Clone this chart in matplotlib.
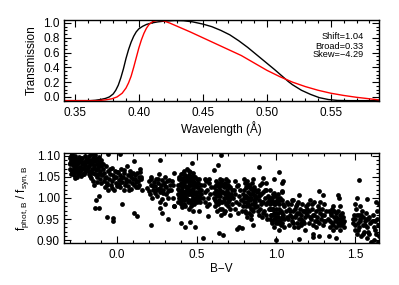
import numpy as np
import matplotlib
matplotlib.use("Agg")
import matplotlib.pyplot as plt
from matplotlib.ticker import MultipleLocator

plt.rcParams['font.family'] = ['Liberation Sans', 'DejaVu Sans']
plt.rcParams['mathtext.fontset'] = 'custom'
plt.rcParams['mathtext.rm'] = 'Liberation Sans'
plt.rcParams['mathtext.it'] = 'Liberation Sans:italic'

# top panel: filter transmission curves
wave_black = [0.3416, 0.362, 0.366, 0.370, 0.374, 0.377, 0.380, 0.382, 0.384, 0.386,
              0.388, 0.390, 0.392, 0.394, 0.396, 0.398, 0.400, 0.403, 0.406, 0.410,
              0.415, 0.420, 0.428, 0.435, 0.442, 0.450, 0.457, 0.464, 0.471, 0.478,
              0.485, 0.492, 0.499, 0.506, 0.513, 0.5166, 0.520, 0.527, 0.534, 0.541,
              0.548, 0.555, 0.565, 0.5877]
trans_black = [-0.05, -0.05, -0.045, -0.035, -0.02, 0.0, 0.04, 0.09, 0.16, 0.26,
               0.38, 0.52, 0.64, 0.74, 0.82, 0.88, 0.92, 0.955, 0.98, 1.0,
               1.015, 1.025, 1.033, 1.03, 1.015, 0.985, 0.95, 0.90, 0.84, 0.76,
               0.67, 0.57, 0.47, 0.37, 0.265, 0.21, 0.165, 0.09, 0.035, -0.01,
               -0.035, -0.047, -0.05, -0.05]

wave_red = [0.3416, 0.368, 0.374, 0.379, 0.383, 0.387, 0.390, 0.392, 0.394, 0.396,
            0.398, 0.400, 0.402, 0.404, 0.406, 0.408, 0.411, 0.415, 0.419, 0.424,
            0.430, 0.440, 0.450, 0.460, 0.470, 0.480, 0.490, 0.500, 0.510, 0.520,
            0.530, 0.540, 0.550, 0.560, 0.570, 0.580, 0.5877]
trans_red = [-0.05, -0.05, -0.04, -0.025, 0.0, 0.05, 0.12, 0.19, 0.28, 0.40,
             0.53, 0.66, 0.77, 0.86, 0.93, 0.98, 1.02, 1.035, 1.03, 1.0,
             0.955, 0.88, 0.80, 0.72, 0.64, 0.56, 0.46, 0.36, 0.275, 0.20,
             0.14, 0.09, 0.05, 0.02, -0.005, -0.025, -0.04]

fit_labels = ["Shift=1.04", "Broad=0.33", "Skew=\u22124.29"]

# bottom panel: B-V colour vs flux ratio
bv = [
    -0.30, -0.30, -0.295, -0.29, -0.29, -0.285, -0.28, -0.28, -0.275, -0.27, -0.27, -0.265,
    -0.26, -0.26, -0.255, -0.25, -0.25, -0.245, -0.24, -0.24, -0.235, -0.23, -0.23, -0.225,
    -0.22, -0.22, -0.215, -0.21, -0.21, -0.205, -0.20, -0.20, -0.195, -0.19, -0.29, -0.285,
    -0.275, -0.265, -0.255, -0.245,
    -0.185, -0.18, -0.18, -0.175, -0.17, -0.17, -0.165, -0.16, -0.16, -0.155, -0.15, -0.15,
    -0.145, -0.14, -0.14, -0.135, -0.13, -0.13, -0.125, -0.12, -0.12, -0.115, -0.11, -0.11,
    -0.105, -0.10, -0.10, -0.095, -0.09, -0.09, -0.175, -0.165, -0.145, -0.125, -0.155, -0.115,
    -0.135, -0.115, -0.14, -0.115,
    -0.085, -0.08, -0.075, -0.07, -0.07, -0.065, -0.06, -0.055, -0.05, -0.045, -0.04, -0.035,
    -0.03, -0.025, -0.02, -0.015, -0.01, -0.005, 0.0, 0.005, 0.01, 0.015, 0.02, 0.025,
    0.03, 0.035, 0.04, 0.045, 0.05, 0.055, 0.06, 0.065, 0.07, 0.075, 0.08, 0.085,
    0.09, 0.095, 0.10, 0.105, 0.11, 0.115, 0.12, 0.125, 0.13, 0.135, 0.14, 0.145,
    0.15, 0.155,
    -0.066, -0.028, -0.028, 0.028, 0.104, 0.125, 0.016, -0.06, 0.104, 0.141,
    0.19, 0.20, 0.205, 0.21, 0.215, 0.22, 0.225, 0.23, 0.235, 0.24, 0.245, 0.25,
    0.255, 0.26, 0.265, 0.27, 0.275, 0.28, 0.285, 0.29, 0.295, 0.30, 0.305, 0.31,
    0.315, 0.32, 0.325, 0.33, 0.27, 0.30,
    0.267, 0.215, 0.267, 0.318, 0.28,
    0.34, 0.35, 0.345, 0.355, 0.36, 0.35,
    0.38, 0.38, 0.38, 0.39, 0.39, 0.39, 0.40, 0.40, 0.40, 0.40, 0.41, 0.41,
    0.41, 0.41, 0.42, 0.42, 0.42, 0.42, 0.43, 0.43, 0.43, 0.43, 0.44, 0.44,
    0.44, 0.44, 0.45, 0.45, 0.45, 0.45, 0.46, 0.46, 0.46, 0.46, 0.47, 0.47,
    0.47, 0.47, 0.48, 0.48, 0.48, 0.48, 0.49, 0.49, 0.49, 0.50, 0.50, 0.50,
    0.51, 0.51, 0.51, 0.52, 0.52, 0.53, 0.53,
    0.405, 0.415, 0.425, 0.435, 0.445, 0.455, 0.465, 0.475, 0.485, 0.495, 0.435, 0.455,
    0.47, 0.456, 0.49, 0.538, 0.515, 0.571, 0.632, 0.655, 0.611, 0.36, 0.40, 0.43,
    0.54, 0.545, 0.55, 0.555, 0.56, 0.565, 0.57, 0.575, 0.58, 0.585, 0.59, 0.55,
    0.565, 0.58,
    0.61, 0.61, 0.615, 0.62, 0.62, 0.625, 0.63, 0.63, 0.635, 0.64, 0.64, 0.645,
    0.65, 0.65, 0.655, 0.66, 0.66, 0.665, 0.67, 0.67, 0.675, 0.68, 0.68, 0.685,
    0.69, 0.69, 0.695, 0.70, 0.70, 0.705, 0.71, 0.71, 0.715, 0.72, 0.72, 0.625,
    0.645, 0.655, 0.685, 0.70,
    0.644, 0.666, 0.756, 0.764, 0.785,
    0.73, 0.735, 0.74, 0.745, 0.75, 0.755, 0.76, 0.765, 0.77, 0.775, 0.78, 0.785,
    0.79, 0.795, 0.80, 0.76, 0.74,
    0.80, 0.80, 0.805, 0.805, 0.81, 0.81, 0.815, 0.815, 0.82, 0.82, 0.825, 0.825,
    0.83, 0.83, 0.835, 0.835, 0.84, 0.84, 0.845, 0.845, 0.85, 0.85, 0.855, 0.855,
    0.86, 0.86, 0.865, 0.865, 0.87, 0.87,
    0.80, 0.855, 0.896, 0.917, 0.855,
    0.875, 0.88, 0.885, 0.89, 0.895, 0.90, 0.90, 0.905, 0.91, 0.915, 0.92, 0.925,
    0.93, 0.935, 0.94, 0.945, 0.95, 0.955, 0.96, 0.965, 0.97, 0.975, 0.98, 0.985,
    0.99, 0.89, 0.92, 0.95, 0.91, 0.94,
    0.96, 0.965, 0.97, 0.975, 0.98, 0.985, 0.99, 0.995, 1.0, 1.0, 1.005, 1.01,
    1.01, 1.015, 1.02, 1.02, 1.025, 1.03, 1.03, 1.035, 1.04, 1.04, 1.045, 1.05,
    1.05, 0.98, 0.995, 1.015, 1.035, 1.005,
    1.016, 1.047, 1.035, 0.99, 1.04, 1.0,
    1.065, 1.07, 1.075, 1.08, 1.085, 1.09, 1.095, 1.10, 1.105, 1.11, 1.115, 1.12,
    1.125, 1.13, 1.135, 1.14, 1.145, 1.15, 1.155, 1.16, 1.165, 1.17, 1.175, 1.18,
    1.185, 1.19, 1.10, 1.13, 1.16,
    1.148, 1.148, 1.23, 1.23,
    1.195, 1.20, 1.205, 1.21, 1.215, 1.22, 1.225, 1.23, 1.235, 1.24, 1.245, 1.25,
    1.255, 1.26, 1.265, 1.27, 1.275, 1.28, 1.285, 1.29, 1.295, 1.30, 1.305, 1.31,
    1.315,
    1.273, 1.293, 1.273,
    1.33, 1.335, 1.34, 1.345, 1.35, 1.355, 1.36, 1.365, 1.37, 1.375, 1.38, 1.385,
    1.39, 1.395, 1.40, 1.405, 1.41, 1.415, 1.42, 1.425, 1.43, 1.36, 1.40,
    1.388, 1.398, 1.378, 1.336,
    1.485, 1.49, 1.495, 1.50, 1.505, 1.51, 1.515, 1.52, 1.525, 1.53, 1.535, 1.54,
    1.545, 1.55, 1.555, 1.56, 1.565, 1.57, 1.575, 1.58, 1.585, 1.59, 1.50, 1.53,
    1.525, 1.508, 1.571,
    1.61, 1.615, 1.62, 1.625, 1.63, 1.635, 1.64, 1.645, 1.65, 1.60, 1.63,
]

flux_ratio = [
    1.095, 1.08, 1.07, 1.088, 1.10, 1.062, 1.078, 1.092, 1.055, 1.085, 1.07, 1.10,
    1.064, 1.079, 1.09, 1.05, 1.072, 1.083, 1.098, 1.06, 1.074, 1.088, 1.052, 1.066,
    1.08, 1.094, 1.058, 1.072, 1.086, 1.10, 1.062, 1.078, 1.09, 1.07, 1.058, 1.105,
    1.098, 1.048, 1.068, 1.058,
    1.085, 1.10, 1.065, 1.076, 1.09, 1.052, 1.104, 1.07, 1.082, 1.095, 1.06, 1.04,
    1.078, 1.088, 1.102, 1.066, 1.05, 1.08, 1.092, 1.072, 1.058, 1.085, 1.045, 1.064,
    1.076, 1.09, 1.035, 1.055, 1.068, 1.082, 1.058, 1.047, 1.032, 1.038, 1.105, 1.098,
    0.996, 0.976, 0.976, 1.005,
    1.04, 1.06, 1.025, 1.075, 1.05, 1.035, 1.065, 1.02, 1.045, 1.058, 1.03, 1.072,
    1.04, 1.055, 1.018, 1.065, 1.035, 1.05, 1.028, 1.062, 1.042, 1.055, 1.025, 1.07,
    1.038, 1.05, 1.02, 1.06, 1.032, 1.045, 1.075, 1.028, 1.055, 1.04, 1.065, 1.022,
    1.05, 1.035, 1.06, 1.03, 1.045, 1.055, 1.025, 1.06, 1.04, 1.05, 1.03, 1.062,
    1.045, 1.02,
    0.955, 0.952, 0.946, 0.985, 0.965, 0.956, 1.105, 1.104, 1.087, 1.068,
    1.024, 1.04, 1.01, 1.03, 1.05, 1.0, 1.02, 1.038, 1.012, 1.028, 1.045, 1.005,
    1.022, 1.035, 1.058, 1.015, 1.03, 1.042, 0.998, 1.02, 1.035, 1.05, 1.01, 1.025,
    1.04, 1.0, 1.018, 1.03, 0.99, 0.985,
    1.091, 0.936, 0.977, 0.95, 0.965,
    1.02, 1.0, 1.04, 1.06, 0.98, 1.03,
    1.01, 1.03, 0.99, 1.02, 1.045, 1.0, 1.012, 1.035, 0.985, 1.058, 1.025, 1.005,
    1.048, 0.978, 1.015, 1.038, 0.995, 1.065, 1.028, 1.008, 1.052, 0.982, 1.018, 1.042,
    0.998, 1.07, 1.03, 1.01, 1.055, 0.975, 1.02, 1.044, 0.99, 1.062, 1.008, 1.032,
    1.05, 0.985, 1.022, 1.04, 1.0, 0.97, 1.012, 1.035, 0.992, 1.025, 1.005, 1.045,
    1.015, 0.995, 1.035, 1.02, 1.0, 1.01, 1.03,
    1.0, 1.035, 1.0, 1.04, 1.025, 0.995, 1.03, 1.015, 1.05, 1.0, 1.015, 1.04,
    1.083, 0.943, 0.93, 0.905, 0.968, 0.956, 1.079, 1.102, 1.067, 0.98, 0.941, 0.932,
    1.0, 1.03, 1.015, 0.99, 1.04, 1.02, 1.0, 1.035, 0.985, 1.01, 1.025, 1.045,
    0.98, 1.045,
    1.0, 1.025, 0.98, 1.04, 1.01, 0.99, 1.03, 0.97, 1.015, 1.035, 0.995, 1.02,
    1.005, 0.975, 1.03, 1.042, 0.99, 1.015, 1.0, 1.025, 0.965, 1.035, 1.01, 0.985,
    1.02, 1.0, 1.03, 0.98, 1.012, 0.995, 1.025, 0.96, 1.005, 0.985, 1.02, 1.02,
    1.045, 0.96, 1.045, 1.04,
    0.917, 0.912, 0.927, 0.931, 0.929,
    1.0, 1.02, 0.975, 1.01, 0.99, 1.028, 0.965, 1.005, 0.985, 1.018, 0.995, 0.97,
    1.01, 0.98, 1.0, 1.032, 1.04,
    0.99, 1.02, 0.97, 1.035, 1.005, 0.98, 1.025, 0.955, 1.0, 1.04, 0.985, 1.015,
    0.965, 1.03, 0.995, 1.01, 0.975, 1.022, 1.0, 0.95, 1.035, 0.985, 1.012, 0.968,
    0.995, 1.025, 0.978, 1.005, 0.99, 1.018,
    1.044, 1.046, 1.074, 1.048, 0.936,
    1.0, 0.98, 1.02, 0.96, 0.995, 1.03, 0.975, 1.01, 0.955, 0.99, 1.015, 0.97,
    1.0, 1.035, 0.985, 0.95, 1.005, 0.975, 1.02, 0.99, 0.96, 1.0, 0.975, 1.012,
    0.985, 1.005, 0.99, 0.99, 1.035, 1.02,
    0.95, 0.975, 1.0, 0.94, 0.96, 0.99, 0.93, 1.005, 0.955, 0.975, 0.99, 0.94,
    1.01, 0.965, 0.985, 0.925, 1.0, 0.95, 0.97, 0.995, 0.94, 1.015, 0.96, 0.98,
    0.93, 1.01, 0.985, 1.0, 0.955, 0.945,
    1.062, 1.04, 1.036, 1.046, 1.016, 0.90,
    0.97, 0.99, 0.95, 0.975, 0.935, 0.96, 0.985, 0.945, 0.97, 0.995, 0.93, 0.955,
    0.98, 0.94, 0.965, 0.99, 0.95, 0.975, 0.935, 0.96, 0.985, 0.945, 0.97, 0.925,
    0.955, 0.98, 0.995, 0.985, 0.94,
    1.007, 0.902, 0.907, 0.914,
    0.96, 0.985, 0.94, 0.97, 0.995, 0.95, 0.975, 0.935, 0.96, 0.99, 0.945, 0.97,
    0.93, 0.955, 0.98, 0.94, 0.965, 0.99, 0.95, 0.975, 0.935, 0.96, 0.985, 0.945,
    0.97,
    1.016, 1.008, 0.91,
    0.95, 0.97, 0.93, 0.96, 0.94, 0.975, 0.925, 0.955, 0.945, 0.965, 0.93, 0.95,
    0.97, 0.935, 0.96, 0.925, 0.945, 0.965, 0.94, 0.955, 0.93, 0.98, 0.98,
    1.007, 1.0, 0.905, 0.91,
    0.94, 0.96, 0.925, 0.95, 0.975, 0.915, 0.94, 0.96, 0.93, 0.95, 0.91, 0.97,
    0.935, 0.955, 0.92, 0.945, 0.965, 0.905, 0.93, 0.95, 0.915, 0.94, 0.985, 0.98,
    1.043, 1.0, 0.998,
    0.96, 0.93, 0.90, 0.945, 0.915, 0.97, 0.895, 0.935, 0.985, 0.895, 0.991,
]

# extra stars filling the dense parts of each colour group
dense_points = [
    (-0.297, 1.083), (-0.288, 1.066), (-0.282, 1.097), (-0.273, 1.076), (-0.268, 1.061),
    (-0.262, 1.093), (-0.252, 1.081), (-0.247, 1.067), (-0.238, 1.088), (-0.232, 1.063),
    (-0.226, 1.095), (-0.218, 1.071), (-0.212, 1.056), (-0.203, 1.084), (-0.197, 1.066),
    (-0.188, 1.093), (-0.182, 1.074), (-0.172, 1.083), (-0.163, 1.061), (-0.158, 1.089),
    (-0.148, 1.071), (-0.142, 1.057), (-0.133, 1.093), (-0.127, 1.068), (-0.118, 1.079),
    (-0.108, 1.057), (-0.103, 1.083),
    (-0.078, 1.048), (-0.062, 1.030), (-0.048, 1.068), (-0.033, 1.024), (-0.018, 1.047),
    (-0.004, 1.062), (0.012, 1.033), (0.027, 1.047), (0.042, 1.066), (0.058, 1.038),
    (0.072, 1.020), (0.088, 1.058), (0.102, 1.045), (0.118, 1.038), (0.132, 1.027),
    (0.147, 1.050),
    (0.198, 1.017), (0.212, 1.044), (0.228, 1.029), (0.243, 1.018), (0.257, 1.045),
    (0.272, 1.024), (0.288, 1.012), (0.302, 1.028), (0.318, 1.016), (0.326, 1.043),
    (0.383, 1.022), (0.387, 1.050), (0.392, 1.008), (0.396, 1.032), (0.402, 1.045),
    (0.404, 0.992), (0.408, 1.018), (0.412, 1.060), (0.417, 1.010), (0.418, 1.042),
    (0.422, 0.985), (0.426, 1.028), (0.428, 1.055), (0.432, 1.000), (0.437, 1.022),
    (0.441, 1.048), (0.443, 0.990), (0.447, 1.010), (0.451, 1.038), (0.453, 1.063),
    (0.458, 1.015), (0.462, 0.982), (0.464, 1.050), (0.468, 1.020), (0.472, 0.995),
    (0.476, 1.040), (0.478, 1.060), (0.482, 1.010), (0.486, 0.985), (0.488, 1.028),
    (0.493, 1.050), (0.497, 1.015), (0.502, 0.990), (0.504, 1.035), (0.508, 1.025),
    (0.513, 1.005), (0.517, 1.045), (0.522, 0.990), (0.527, 1.020),
    (0.612, 1.012), (0.618, 0.995), (0.623, 1.030), (0.628, 1.005), (0.633, 0.985),
    (0.638, 1.025), (0.642, 1.010), (0.648, 0.990), (0.652, 1.035), (0.658, 1.015),
    (0.662, 0.975), (0.668, 1.030), (0.672, 0.992), (0.677, 1.012), (0.682, 0.970),
    (0.688, 1.028), (0.692, 1.008), (0.698, 0.990), (0.703, 1.025), (0.708, 1.000),
    (0.713, 0.975), (0.718, 1.010),
    (0.802, 1.005), (0.808, 1.025), (0.812, 0.965), (0.818, 0.990), (0.822, 1.030),
    (0.828, 1.000), (0.832, 0.980), (0.838, 1.025), (0.842, 0.960), (0.848, 1.010),
    (0.852, 0.975), (0.858, 1.020), (0.862, 0.985), (0.868, 1.005),
    (0.878, 1.015), (0.887, 0.970), (0.897, 1.010), (0.908, 0.985), (0.918, 0.965),
    (0.928, 1.020), (0.938, 0.960), (0.948, 0.990), (0.958, 1.000), (0.968, 0.975),
    (0.978, 0.990), (0.988, 0.965),
    (0.962, 0.985), (0.968, 0.960), (0.972, 0.990), (0.978, 0.945), (0.982, 0.975),
    (0.988, 0.950), (0.992, 0.990), (0.998, 0.940), (1.002, 0.965), (1.008, 0.995),
    (1.012, 0.955), (1.018, 0.945), (1.022, 0.975), (1.028, 0.995), (1.032, 0.935),
    (1.038, 0.965), (1.042, 0.985), (1.048, 0.950),
    (1.068, 0.955), (1.078, 0.985), (1.088, 0.970), (1.098, 0.955), (1.108, 0.940),
    (1.118, 0.975), (1.128, 0.960), (1.138, 0.930), (1.148, 0.965), (1.158, 0.950),
    (1.168, 0.970), (1.178, 0.940), (1.188, 0.965),
    (1.198, 0.975), (1.212, 0.955), (1.228, 0.985), (1.242, 0.960), (1.258, 0.945),
    (1.272, 0.975), (1.288, 0.960), (1.302, 0.945),
    (1.338, 0.945), (1.348, 0.965), (1.358, 0.935), (1.368, 0.970), (1.378, 0.955),
    (1.388, 0.940), (1.398, 0.950), (1.408, 0.935), (1.418, 0.955), (1.428, 0.945),
    (1.488, 0.950), (1.498, 0.935), (1.508, 0.960), (1.518, 0.925), (1.528, 0.945),
    (1.538, 0.960), (1.548, 0.915), (1.558, 0.935), (1.568, 0.950), (1.578, 0.920),
    (1.588, 0.955),
    (1.605, 0.945), (1.622, 0.925), (1.638, 0.950), (1.648, 0.910),
]

bv_all = bv + [p[0] for p in dense_points]
ratio_all = flux_ratio + [p[1] for p in dense_points]

fig = plt.figure(figsize=(3.99, 2.85), dpi=100)
ax1 = fig.add_axes([0.1604, 0.6456, 0.790, 0.2842])
ax2 = fig.add_axes([0.1604, 0.1474, 0.790, 0.3158])

ax1.plot(wave_black, trans_black, color='black', lw=1.0)
ax1.plot(wave_red, trans_red, color='red', lw=1.0)
ax1.set_xlim(0.3416, 0.5877)
ax1.set_ylim(-0.055, 1.04)
ax1.xaxis.set_major_locator(MultipleLocator(0.05))
ax1.xaxis.set_minor_locator(MultipleLocator(0.01))
ax1.yaxis.set_major_locator(MultipleLocator(0.2))
ax1.yaxis.set_minor_locator(MultipleLocator(0.05))
ax1.xaxis.set_major_formatter(plt.FormatStrFormatter('%.2f'))
ax1.yaxis.set_major_formatter(plt.FormatStrFormatter('%.1f'))
ax1.set_xlabel('Wavelength (\u00c5)', fontsize=8.5, labelpad=2)
ax1.set_ylabel('Transmission', fontsize=8.5)
ax1.yaxis.set_label_coords(-0.083, 0.5)
for lab, yy in zip(fit_labels, [0.794, 0.679, 0.58]):
    ax1.text(0.951, yy, lab, transform=ax1.transAxes, ha='right', va='center', fontsize=6.7)

ax2.scatter(bv_all, ratio_all, s=12, color='black', linewidths=0)
ax2.set_xlim(-0.335, 1.65)
ax2.set_ylim(0.893, 1.107)
ax2.xaxis.set_major_locator(MultipleLocator(0.5))
ax2.xaxis.set_minor_locator(MultipleLocator(0.1))
ax2.yaxis.set_major_locator(MultipleLocator(0.05))
ax2.yaxis.set_minor_locator(MultipleLocator(0.01))
ax2.xaxis.set_major_formatter(plt.FormatStrFormatter('%.1f'))
ax2.yaxis.set_major_formatter(plt.FormatStrFormatter('%.2f'))
ax2.set_xlabel('B\u2212V', fontsize=8.5, labelpad=2)
ax2.set_ylabel(r'f$_{\mathregular{phot,B}}$ / f$_{\mathregular{syn,B}}$', fontsize=8.5)
ax2.yaxis.set_label_coords(-0.105, 0.5)

for ax in (ax1, ax2):
    ax.tick_params(which='both', direction='in', top=True, right=True, labelsize=8.5, width=0.8)
    ax.tick_params(which='major', length=5, pad=3)
    ax.tick_params(which='minor', length=2.5)
    ax.tick_params(axis='x', pad=4)
    for sp in ax.spines.values():
        sp.set_linewidth(1.0)

fig.savefig('out.png', dpi=100)
